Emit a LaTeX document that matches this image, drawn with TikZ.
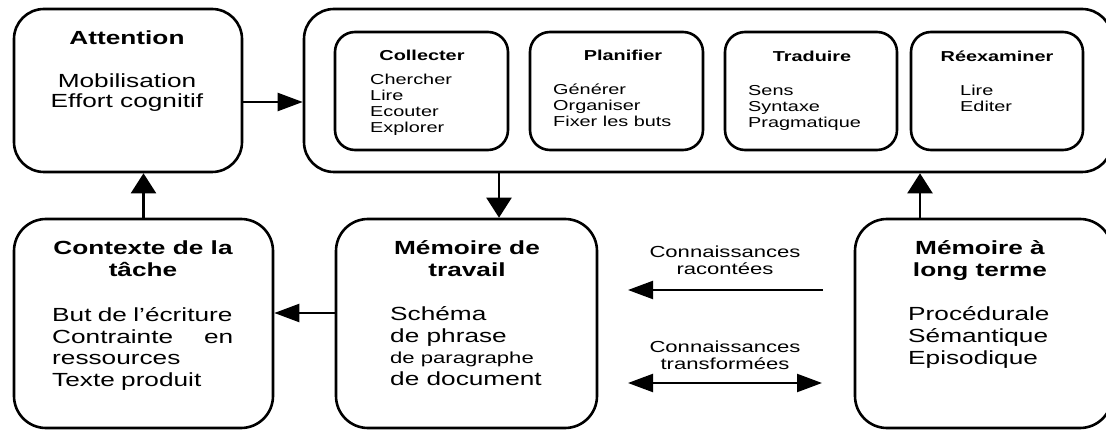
\documentclass[tikz,border=0pt]{standalone}
\usepackage{fontspec}
\setmainfont{Liberation Sans}[FakeStretch=1.38]
\usetikzlibrary{arrows.meta}

\begin{document}
\begin{tikzpicture}[x=1pt,y=-1pt,
  box/.style={draw, line width=2.6pt, rounded corners=#1, inner sep=0pt},
  link/.style={line width=2.2pt},
  harrow/.style={link, -{Triangle[length=25pt,width=18pt]}},
  darrow/.style={link, {Triangle[length=25pt,width=18pt]}-{Triangle[length=25pt,width=18pt]}},
  varrow/.style={link, -{Triangle[length=20pt,width=25pt]}},
  bigtitle/.style={font=\fontsize{19}{20}\selectfont\bfseries, inner sep=0pt, anchor=base, align=center},
  bigbody/.style={font=\fontsize{19}{20}\selectfont, inner sep=0pt, anchor=base, align=center},
  smalltitle/.style={font=\fontsize{14.4}{16}\selectfont\bfseries, inner sep=0pt, anchor=base},
  smallbody/.style={font=\fontsize{14.4}{16}\selectfont, inner sep=0pt, anchor=base west, align=left},
  lowtitle/.style={font=\fontsize{19}{22}\selectfont\bfseries, inner sep=0pt, anchor=base, align=center},
  lowbody/.style={font=\fontsize{19}{21.5}\selectfont, inner sep=0pt, anchor=base west, align=left},
  knowledge/.style={font=\fontsize{16}{17.5}\selectfont, inner sep=0pt, anchor=base, align=center}
]
\useasboundingbox (0,0) rectangle (1106,430);

% upper row
\node[box=30pt, minimum width=228pt, minimum height=163pt] (att) at (128,90.5) {};
\node[box=30pt, minimum width=808pt, minimum height=163pt] (top) at (708,90.5) {};
\node[box=20pt, minimum width=173pt, minimum height=118pt] (col) at (421.5,91) {};
\node[box=20pt, minimum width=173pt, minimum height=118pt] (pla) at (616.5,91) {};
\node[box=20pt, minimum width=172pt, minimum height=118pt] (tra) at (811,91) {};
\node[box=20pt, minimum width=172pt, minimum height=118pt] (ree) at (997,91) {};

% lower row
\node[box=32pt, minimum width=259pt, minimum height=209pt] (ctx) at (143.5,323.5) {};
\node[box=32pt, minimum width=261pt, minimum height=209pt] (trav) at (466.5,323.5) {};
\node[box=32pt, minimum width=257pt, minimum height=209pt] (lt) at (983.5,323.5) {};

% texts of the upper row (multi-line nodes sit on their last baseline)
\node[bigtitle] (attT) at (127,45) {Attention};
\node[bigbody] (attB) at (127,108) {Mobilisation\\Effort cognitif};

\node[smalltitle] (colT) at (422,61) {Collecter};
\node[smallbody] (colB) at (370,133) {Chercher\\Lire\\Ecouter\\Explorer};
\node[smalltitle] (plaT) at (623,61) {Planifier};
\node[smallbody] (plaB) at (553,127) {Générer\\Organiser\\Fixer les buts};
\node[smalltitle] (traT) at (812,62) {Traduire};
\node[smallbody] (traB) at (748,128) {Sens\\Syntaxe\\Pragmatique};
\node[smalltitle] (reeT) at (997,62) {Réexaminer};
\node[smallbody] (reeB) at (960,112) {Lire\\Editer};

% texts of the lower row
\node[lowtitle] (ctxT) at (143,277) {Contexte de la\\tâche};
\node[lowbody, text width=181pt] (ctxB) at (52,322)
  {But de l’écriture\\Contrainte\hfill en\\ressources\\Texte produit};
\node[lowtitle] (travT) at (467,277) {Mémoire de\\travail};
\node[lowbody] (travB) at (390,385)
  {Schéma\\de phrase\\{\fontsize{16}{21.5}\selectfont de paragraphe}\\de document};
\node[lowtitle] (ltT) at (980,277) {Mémoire à\\long terme};
\node[lowbody, font=\fontsize{19}{22}\selectfont] (ltB) at (908,365)
  {Procédurale\\Sémantique\\Episodique};

\node[knowledge] (kr) at (725,275) {Connaissances\\racontées};
\node[knowledge] (kt) at (725,370) {Connaissances\\transformées};

% connectors
\draw[harrow] (att.east |- 0,102) -- (top.west |- 0,102);
\draw[varrow] (ctx.north) -- (ctx.north |- att.south);
\draw[varrow] (top.south -| 499,0) -- (trav.north -| 499,0);
\draw[varrow] (lt.north -| 920,0) -- (top.south -| 920,0);
\draw[harrow] (trav.west |- 0,313) -- (ctx.east |- 0,313);

\coordinate (r1) at (823,290);
\coordinate (r2) at (628,290);
\draw[harrow] (r1) -- (r2);
\coordinate (t1) at (628,383);
\coordinate (t2) at (822,383);
\draw[darrow] (t1) -- (t2);
\end{tikzpicture}
\end{document}
